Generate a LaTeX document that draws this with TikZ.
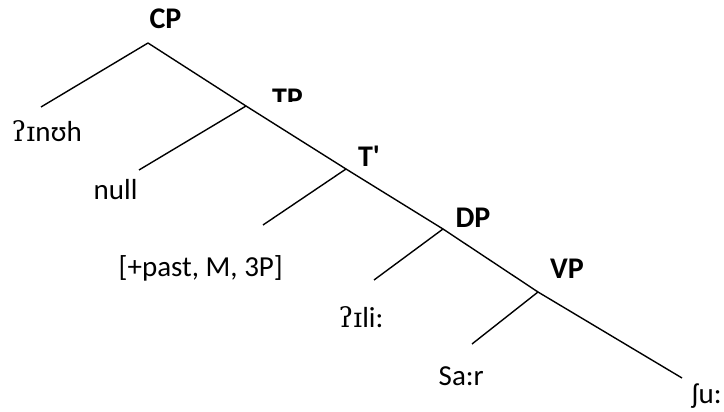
\documentclass[tikz,border=0pt]{standalone}
\usepackage{fontspec}
\setmainfont{Carlito}
\newfontfamily\ipa{DejaVu Serif}[Scale=0.95]
\begin{document}
\begin{tikzpicture}[x=1pt,y=-1pt,line width=1.4pt,
  lab/.style={font=\fontsize{30}{35}\selectfont\bfseries,inner sep=0pt,anchor=base},
  leaf/.style={font=\fontsize{29}{34}\selectfont,inner sep=0pt,anchor=base west}]
\useasboundingbox (0,0) rectangle (724,412);
% labels
\node[lab] (cp) at (165.5,29) {CP};
\begin{scope}
\clip (0,0) rectangle (724,101.5);
\node[lab] (tp) at (287.5,109) {TP};
\end{scope}
\node[lab] (tbar) at (369,166) {T\textquotesingle};
\node[lab] (dp) at (473,227) {DP};
\node[lab] (vp) at (567,278) {VP};
% leaves
\node[leaf] (l1) at (11,142) {{\ipa ʔɪ}nʊh};
\node[leaf] (l2) at (93,199) {null};
\node[leaf] (l3) at (118,276) {[+past, M, 3P]};
\node[leaf] (l4) at (338,327) {{\ipa ʔɪ}li:};
\node[leaf] (l5) at (438,385) {Sa:r};
\node[leaf] (l6) at (691,403) {ʃu:};
% branch points
\coordinate (a0) at (148,43);
\coordinate (a1) at (246,106);
\coordinate (a2) at (346,169);
\coordinate (a3) at (443,229);
\coordinate (a4) at (538,292);
\coordinate (e0) at (41,107);
\coordinate (e1) at (139,170);
\coordinate (e2) at (263,225);
\coordinate (e3) at (374,280);
\coordinate (e4) at (472,344);
\coordinate (e5) at (682,378);
\draw (a0) -- (a1) -- (a2) -- (a3) -- (a4) -- (e5);
\draw (a0) -- (e0);
\draw (a1) -- (e1);
\draw (a2) -- (e2);
\draw (a3) -- (e3);
\draw (a4) -- (e4);
\end{tikzpicture}
\end{document}
